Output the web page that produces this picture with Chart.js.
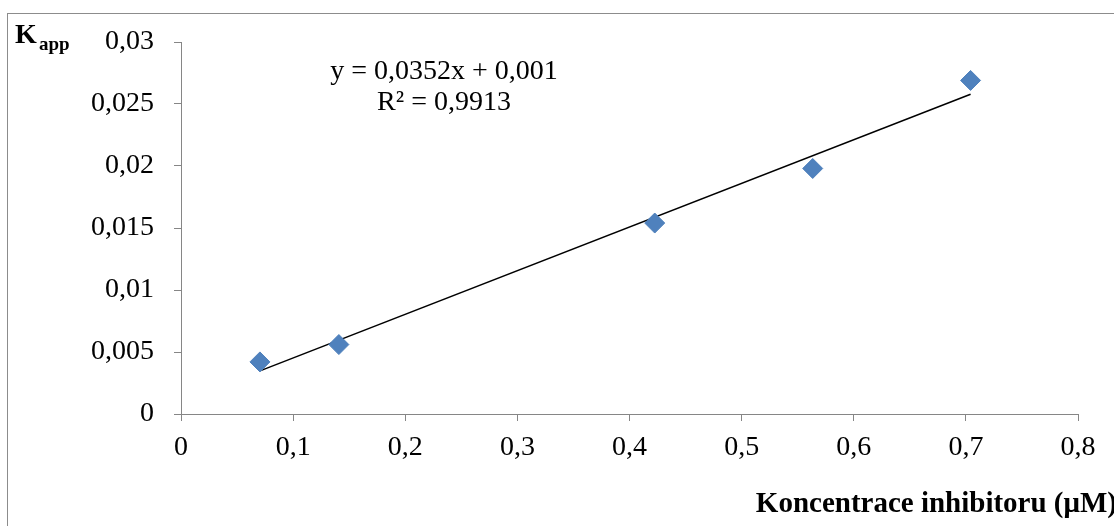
<!DOCTYPE html>
<html>
<head>
<meta charset="utf-8">
<script src="https://cdn.jsdelivr.net/npm/chart.js@4"></script>
<style>
  html, body { margin: 0; padding: 0; background: #fff; }
  #wrap { width: 1114px; height: 526px; position: relative; }
</style>
</head>
<body>
<div id="wrap"><canvas id="myChart"></canvas></div>
<script>
// inhibitor concentration (uM) and apparent K
var concX = [0.0704, 0.1408, 0.4225, 0.5634, 0.7042];
var kappY = [0.0042, 0.0056, 0.0154, 0.0198, 0.0269];

// linear trendline as reported on the chart
var slope = 0.0352;
var intercept = 0.001;
var eqText = ['y = 0,0352x + 0,001', 'R² = 0,9913'];

var xTitle = 'Koncentrace inhibitoru (μM)';

var points = concX.map(function (x, i) { return { x: x, y: kappY[i] }; });
var xMin = concX[0], xMax = concX[concX.length - 1];
var trend = [
  { x: xMin, y: slope * xMin + intercept },
  { x: xMax, y: slope * xMax + intercept }
];

var serif = '"Liberation Serif", "Times New Roman", serif';
var axisGray = '#868686';

function fmt(v) {
  return String(Number(v.toFixed(4))).replace('.', ',');
}

var decor = {
  id: 'decor',
  beforeDraw: function (chart) {
    var c = chart.ctx;
    c.save();
    c.fillStyle = '#fff';
    c.fillRect(0, 0, chart.width, chart.height);
    c.strokeStyle = '#8c8c8c';
    c.lineWidth = 1;
    c.strokeRect(7.5, 13.5, 1200, 600);
    c.restore();
  },
  afterDraw: function (chart) {
    var c = chart.ctx;
    c.save();
    c.fillStyle = '#000';
    c.textBaseline = 'alphabetic';
    // y axis title with subscript
    c.textAlign = 'left';
    c.font = 'bold 28px ' + serif;
    c.fillText('K', 15, 43);
    c.font = 'bold 19px ' + serif;
    c.fillText('app', 39, 50);
    // x axis title
    c.textAlign = 'right';
    c.font = 'bold 29px ' + serif;
    c.fillText(xTitle, 1117, 512);
    // trendline equation
    c.textAlign = 'center';
    c.font = '28px ' + serif;
    c.fillText(eqText[0], 444, 79);
    c.fillText(eqText[1], 444, 110);
    c.restore();
  }
};

var ctx = document.getElementById('myChart').getContext('2d');
var myChart = new Chart(ctx, {
  type: 'scatter',
  data: {
    datasets: [{
      label: 'Kapp',
      data: points,
      pointStyle: 'rectRot',
      pointRadius: 10,
      pointHoverRadius: 10,
      backgroundColor: '#4F81BD',
      borderColor: '#4F81BD',
      borderWidth: 1
    }, {
      label: 'trend',
      type: 'line',
      data: trend,
      borderColor: '#000',
      borderWidth: 1.5,
      pointRadius: 0,
      fill: false
    }]
  },
  options: {
    responsive: true,
    maintainAspectRatio: false,
    animation: false,
    layout: { padding: { top: 42, right: 36, left: 0, bottom: 0 } },
    plugins: {
      legend: { display: false },
      tooltip: { enabled: false }
    },
    scales: {
      x: {
        type: 'linear',
        min: 0,
        max: 0.8,
        afterFit: function (s) { s.height = 112; },
        border: { display: true, color: axisGray, width: 1 },
        grid: { drawOnChartArea: false, drawTicks: true, tickLength: 7, color: axisGray },
        ticks: {
          stepSize: 0.1,
          padding: 10,
          color: '#000',
          font: { family: serif, size: 28 },
          callback: function (v) { return fmt(v); }
        }
      },
      y: {
        type: 'linear',
        min: 0,
        max: 0.03,
        afterFit: function (s) { s.width = 181; },
        border: { display: true, color: axisGray, width: 1 },
        grid: { drawOnChartArea: false, drawTicks: true, tickLength: 7, color: axisGray },
        ticks: {
          stepSize: 0.005,
          padding: 20,
          color: '#000',
          font: { family: serif, size: 28 },
          callback: function (v) { return fmt(v); }
        }
      }
    }
  },
  plugins: [decor]
});
</script>
</body>
</html>
